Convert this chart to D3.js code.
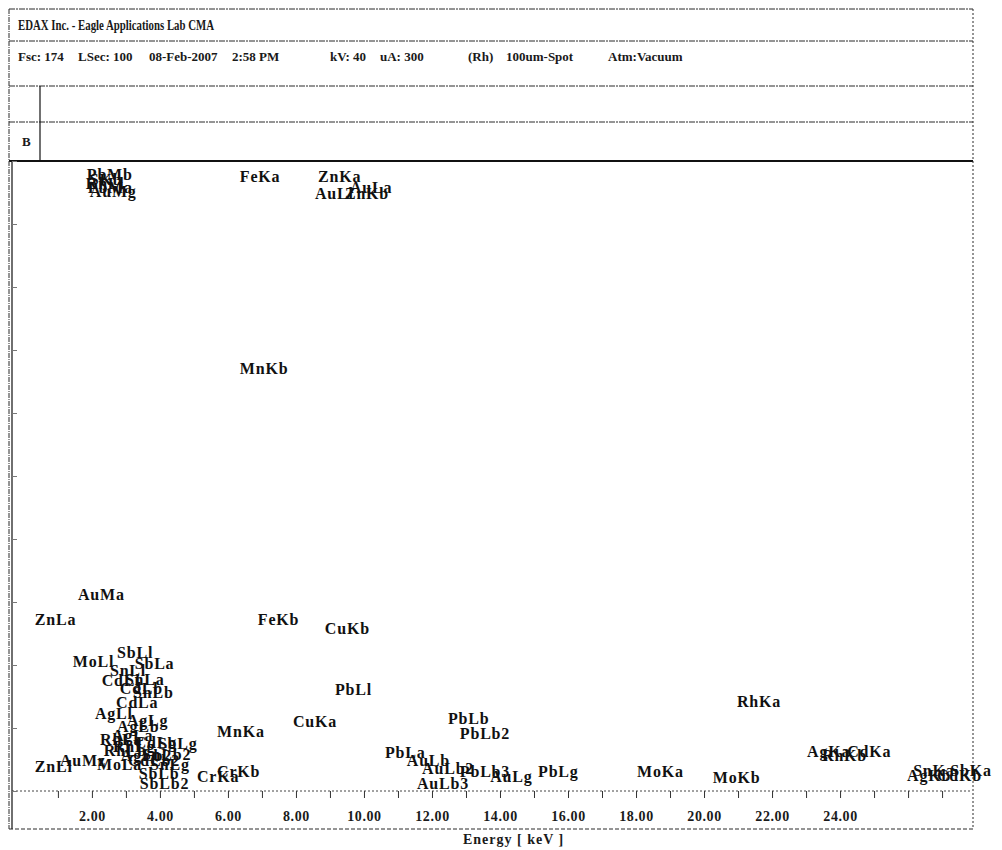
<!DOCTYPE html>
<html>
<head>
<meta charset="utf-8">
<script src="https://cdn.jsdelivr.net/npm/d3@7"></script>
<style>
  html, body { margin: 0; padding: 0; background: #fff; }
  svg { display: block; }
  .hdr { font-family: "Liberation Serif", "Times New Roman", serif; font-weight: bold; font-size: 13px; fill: #1a1a1a; }
  .ttl { font-family: "Liberation Serif", "Times New Roman", serif; font-weight: bold; font-size: 14px; fill: #1a1a1a; }
  .pk { font-family: "Liberation Serif", "Times New Roman", serif; font-weight: bold; font-size: 16px; fill: #111; letter-spacing: 0.8px; }
  .tick text { font-family: "Liberation Serif", "Times New Roman", serif; font-weight: bold; font-size: 14px; fill: #1a1a1a; letter-spacing: 0.6px; }
  .xtitle { font-family: "Liberation Serif", "Times New Roman", serif; font-weight: bold; font-size: 14px; fill: #1a1a1a; letter-spacing: 1px; }
</style>
</head>
<body>
<svg id="chart" width="1002" height="850"></svg>
<script>
// Header information
const titleText = "EDAX Inc. - Eagle Applications Lab CMA";
const infoFields = ["Fsc: 174", "LSec: 100", "08-Feb-2007", "2:58 PM", "kV: 40", "uA: 300", "(Rh)", "100um-Spot", "Atm:Vacuum"];
const infoOffsets = [0, 60, 131, 214, 312, 362, 450, 488, 590];

// Energy axis (keV)
const energyDomain = [-0.35, 27.88];
const energyTicks = d3.range(1, 28);
const energyTickLabels = [2, 4, 6, 8, 10, 12, 14, 16, 18, 20, 22, 24];

// Full scale counts
const countDomain = [0, 174];
const countTicks = d3.range(0, 175, 17.4);

// Identified peak labels: name, energy (keV), label height (counts)
const peakNames = [
  "PbMb", "SKb", "RhLl", "PbMa", "AuMg", "FeKa", "ZnKa", "AuLa", "AuLl", "ZnKb",
  "MnKb", "AuMa", "ZnLa", "FeKb", "CuKb", "SbLl", "MoLl", "SbLa", "SnLl", "CdLl",
  "SnLa", "CdLb", "SnLb", "PbLl", "CdLa", "RhKa", "AgLl", "PbLb", "AgLg", "CuKa",
  "AgLb", "MnKa", "PbLb2", "AgLa", "RhLa", "SbLg", "RhLg", "CdLg", "RhLb", "AgKa",
  "CdKa", "PbLa", "SnLb2", "RhKb", "AgLb2", "AuLb", "AuMz", "CdLb2", "MoLa", "SnLg",
  "ZnLl", "AuLb2", "PbLb3", "CrKb", "MoKa", "PbLg", "SnKa", "SbKa", "SbLb", "AgKb",
  "CdKb", "AuLg", "CrKa", "MoKb", "SbLb2", "AuLb3"
];
const peakEnergies = [
  1.85, 1.94, 1.82, 1.88, 1.94, 6.35, 8.65, 9.59, 8.56, 9.44,
  6.35, 1.59, 0.32, 6.88, 8.85, 2.74, 1.44, 3.26, 2.53, 2.29,
  2.97, 2.82, 3.21, 9.15, 2.71, 20.97, 2.09, 12.47, 3.03, 7.91,
  2.74, 5.68, 12.82, 2.59, 2.24, 3.94, 2.62, 3.26, 2.35, 23.03,
  24.21, 10.62, 3.47, 23.47, 2.85, 11.26, 1.06, 3.06, 2.15, 3.71,
  0.32, 11.71, 12.82, 5.68, 18.03, 15.12, 26.15, 27.24, 3.38, 25.97,
  26.85, 13.71, 5.09, 20.26, 3.41, 11.56
];
const peakHeights = [
  170.4, 169.0, 167.9, 166.8, 165.5, 169.6, 169.6, 166.8, 164.9, 164.9,
  116.6, 54.3, 47.4, 47.4, 44.9, 38.3, 35.8, 35.3, 33.4, 30.6,
  30.9, 28.4, 27.3, 27.9, 24.5, 24.8, 21.5, 20.1, 19.6, 19.3,
  17.9, 16.5, 16.0, 15.4, 14.3, 13.0, 12.4, 13.5, 11.3, 11.0,
  11.0, 10.5, 10.2, 9.7, 9.7, 8.5, 8.5, 8.5, 7.4, 7.4,
  6.9, 6.3, 5.5, 5.5, 5.5, 5.5, 5.8, 5.8, 4.7, 4.4,
  4.4, 4.1, 3.9, 3.6, 2.2, 2.2
];

const svg = d3.select("#chart");

// Frame geometry
const frameL = 9, frameR = 973;
const rowLines = [9, 41, 86, 122];
const plotTop = 161, axisY = 791, frameBottom = 829;
const plotL = 12, plotR = 972;

const ink = "#2a2a2a";

// Header rules
svg.selectAll("line.row").data(rowLines).join("line")
  .attr("x1", frameL).attr("x2", frameR)
  .attr("y1", d => d).attr("y2", d => d)
  .attr("stroke", ink).attr("stroke-width", 1).attr("stroke-dasharray", "6,1,2,1");
svg.append("line").attr("x1", frameL).attr("x2", frameR).attr("y1", plotTop).attr("y2", plotTop)
  .attr("stroke", "#111").attr("stroke-width", 2);
// Frame verticals
svg.append("line").attr("x1", frameL).attr("x2", frameL).attr("y1", 9).attr("y2", frameBottom)
  .attr("stroke", ink).attr("stroke-width", 1).attr("stroke-dasharray", "5,1,1,1");
svg.append("line").attr("x1", frameR).attr("x2", frameR).attr("y1", 9).attr("y2", frameBottom)
  .attr("stroke", ink).attr("stroke-width", 1).attr("stroke-dasharray", "2,2");
svg.append("line").attr("x1", 40).attr("x2", 40).attr("y1", 86).attr("y2", plotTop)
  .attr("stroke", "#111").attr("stroke-width", 1.2);
svg.append("line").attr("x1", frameL).attr("x2", frameR).attr("y1", frameBottom).attr("y2", frameBottom)
  .attr("stroke", ink).attr("stroke-width", 1).attr("stroke-dasharray", "4,2");

// Header text
svg.append("text").attr("class", "ttl").attr("x", 18).attr("y", 30)
  .attr("textLength", 196).attr("lengthAdjust", "spacingAndGlyphs").text(titleText);
svg.append("text").attr("class", "hdr").attr("y", 61)
  .selectAll("tspan").data(infoFields).join("tspan")
  .attr("x", (d, i) => 18 + infoOffsets[i]).text(d => d);
svg.append("text").attr("class", "hdr").attr("x", 22).attr("y", 146).text("B");

// Scales
const x = d3.scaleLinear().domain(energyDomain).range([plotL, plotR]);
const y = d3.scaleLinear().domain(countDomain).range([axisY, plotTop]);

// Energy axis
const xAxis = d3.axisBottom(x)
  .tickValues(energyTicks)
  .tickSize(7)
  .tickSizeOuter(0)
  .tickFormat(d => energyTickLabels.includes(d) ? d3.format(".2f")(d) : "");
const gx = svg.append("g").attr("transform", `translate(0,${axisY})`).call(xAxis);
gx.select(".domain").attr("stroke", "#444").attr("stroke-dasharray", "2,2").attr("d", `M${plotL},0H${plotR}`);
gx.selectAll(".tick line").attr("stroke", "#333");
gx.selectAll(".tick text").attr("dy", "1.45em");

// Count axis (left edge with inward ticks)
const yAxis = d3.axisRight(y).tickValues(countTicks).tickSize(5).tickSizeOuter(0).tickFormat("");
const gy = svg.append("g").attr("transform", `translate(${plotL},0)`).call(yAxis);
gy.select(".domain").attr("stroke", "#222").attr("stroke-width", 1.3).attr("d", `M0,${plotTop}V${frameBottom}`);
gy.selectAll(".tick line").attr("stroke", "#777");

// Peak labels
const peaks = peakNames.map((n, i) => ({ name: n, e: peakEnergies[i], h: peakHeights[i] }));
svg.append("g").selectAll("text").data(peaks).join("text")
  .attr("class", "pk")
  .attr("x", d => x(d.e))
  .attr("y", d => y(d.h))
  .attr("dominant-baseline", "central")
  .text(d => d.name);

// Axis title
svg.append("text").attr("class", "xtitle")
  .attr("x", x(14.4)).attr("y", 844)
  .attr("text-anchor", "middle")
  .text("Energy [ keV ]");
</script>
</body>
</html>
